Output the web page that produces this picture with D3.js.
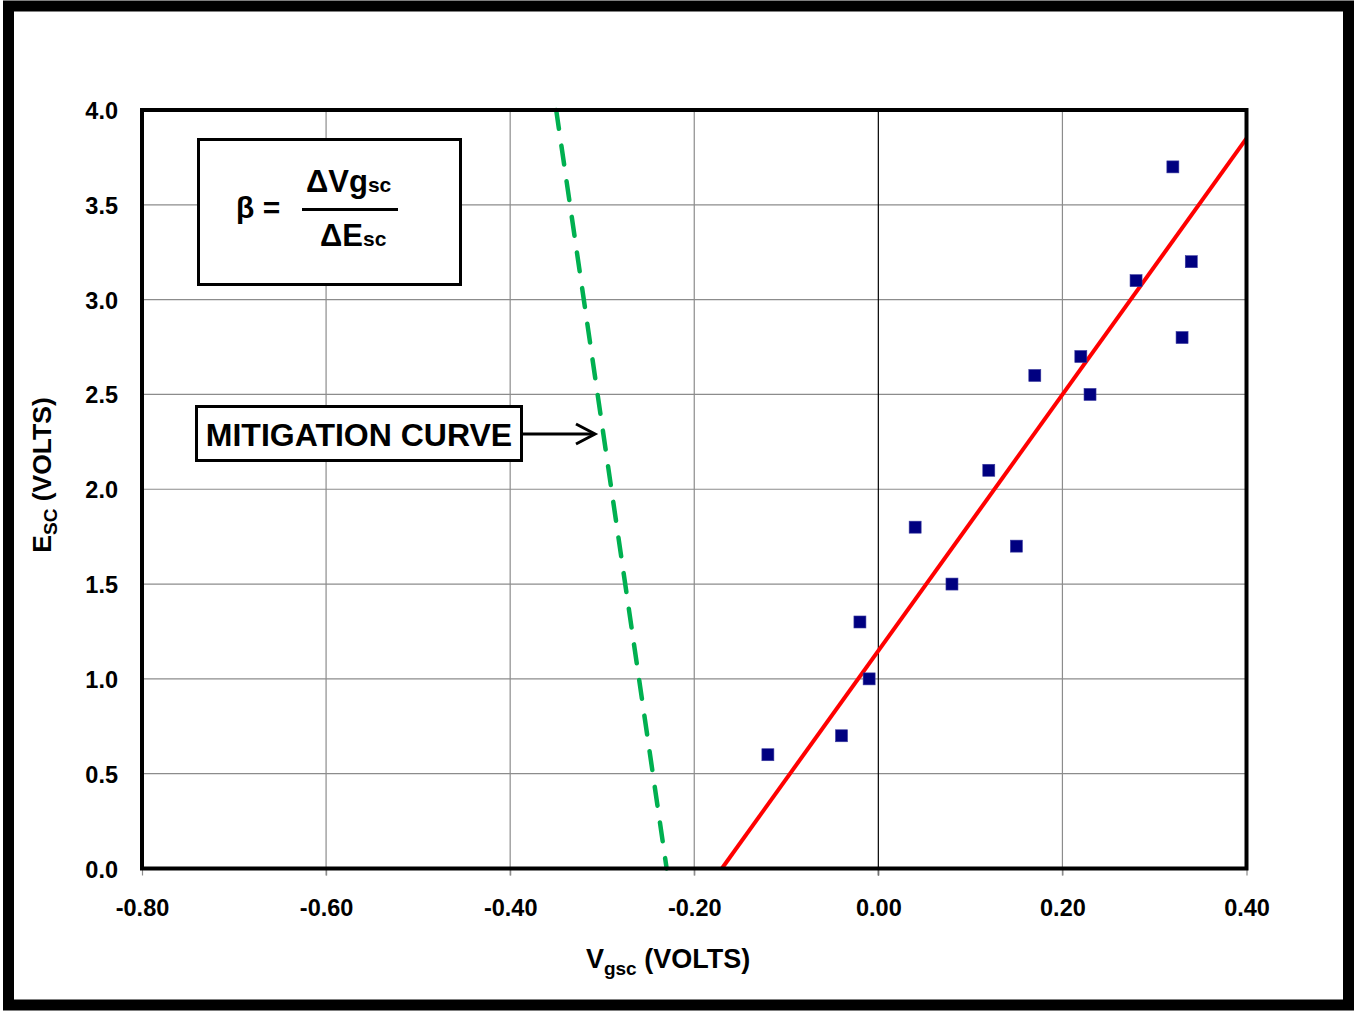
<!DOCTYPE html>
<html><head><meta charset="utf-8">
<script src="https://cdn.jsdelivr.net/npm/d3@7/dist/d3.min.js"></script>
<style>body{margin:0;background:#fff}svg{display:block;font-family:"Liberation Sans",Arial,sans-serif;font-weight:bold}</style>
</head><body>
<script>
// Data
const pointsX = [-0.12, -0.04, -0.02, -0.01, 0.04, 0.08, 0.12, 0.15, 0.17, 0.22, 0.23, 0.28, 0.32, 0.33, 0.34];
const pointsY = [0.6, 0.7, 1.3, 1.0, 1.8, 1.5, 2.1, 1.7, 2.6, 2.7, 2.5, 3.1, 3.7, 2.8, 3.2];
const fitX = [-0.17, 0.40];
const fitY = [0.0, 3.85];
const mitigationX = [-0.35, -0.23];
const mitigationY = [4.0, 0.0];
const xTicks = [-0.8, -0.6, -0.4, -0.2, 0.0, 0.2, 0.4];
const yTicks = [0, 0.5, 1.0, 1.5, 2.0, 2.5, 3.0, 3.5, 4.0];

const W = 1356, H = 1015;
const svg = d3.select("body").append("svg").attr("width", W).attr("height", H);

// outer frame
svg.append("rect").attr("x", 8.5).attr("y", 6).attr("width", 1340).attr("height", 999)
  .attr("fill", "#fff").attr("stroke", "#000").attr("stroke-width", 11);

const L = 142, R = 1246.5, T = 110, B = 868.5;
const x = d3.scaleLinear().domain([-0.8, 0.4]).range([L, R]);
const y = d3.scaleLinear().domain([0, 4]).range([B, T]);

// gridlines
svg.append("g").selectAll("line").data(yTicks.filter(d => d > 0 && d < 4)).join("line")
  .attr("x1", L).attr("x2", R).attr("y1", d => y(d)).attr("y2", d => y(d))
  .attr("stroke", "#8c8c8c").attr("stroke-width", 1.2);
svg.append("g").selectAll("line").data(xTicks.filter(d => d > -0.8 && d < 0.4)).join("line")
  .attr("x1", d => x(d)).attr("x2", d => x(d)).attr("y1", T).attr("y2", B + 7)
  .attr("stroke", d => d === 0 ? "#000" : "#8c8c8c").attr("stroke-width", 1.2);

// axes (labels only)
const xAxis = d3.axisBottom(x).tickValues(xTicks).tickFormat(d3.format(".2f")).tickSize(7).tickPadding(24);
const gx = svg.append("g").attr("transform", `translate(0,${B})`).call(xAxis);
gx.select(".domain").remove();
gx.selectAll("line").attr("stroke", "#8c8c8c").attr("stroke-width", 1.2);
gx.selectAll("text").attr("font-size", 23.5).attr("font-weight", "bold").attr("fill", "#000")
  .attr("font-family", "Liberation Sans, Arial, sans-serif").text(d => d3.format(".2f")(d).replace("−", "-"));

const yAxis = d3.axisLeft(y).tickValues(yTicks).tickFormat(d3.format(".1f")).tickSize(0).tickPadding(24);
const gy = svg.append("g").attr("transform", `translate(${L},1)`).call(yAxis);
gy.select(".domain").remove();
gy.selectAll("text").attr("font-size", 23.5).attr("font-weight", "bold").attr("fill", "#000")
  .attr("font-family", "Liberation Sans, Arial, sans-serif");

// mitigation dashed line
const line = d3.line().x(d => x(d[0])).y(d => y(d[1]));
svg.append("path").datum(d3.zip(mitigationX, mitigationY)).attr("d", line)
  .attr("fill", "none").attr("stroke", "#00b050").attr("stroke-width", 4.5)
  .attr("stroke-dasharray", "19,17").attr("stroke-linecap", "round");

// fit line
svg.append("path").datum(d3.zip(fitX, fitY)).attr("d", line)
  .attr("fill", "none").attr("stroke", "#ff0000").attr("stroke-width", 4);

// points
svg.append("g").selectAll("rect").data(d3.zip(pointsX, pointsY)).join("rect")
  .attr("x", d => x(d[0]) - 6).attr("y", d => y(d[1]) - 6).attr("width", 12).attr("height", 12)
  .attr("fill", "#000080").attr("stroke", "#3a3aa0").attr("stroke-width", 0.6);

// plot frame
svg.append("rect").attr("x", L).attr("y", T).attr("width", R - L).attr("height", B - T)
  .attr("fill", "none").attr("stroke", "#000").attr("stroke-width", 4);

// axis titles
const xt = svg.append("text").attr("x", 668).attr("y", 968).attr("text-anchor", "middle").attr("font-size", 27);
xt.append("tspan").text("V");
xt.append("tspan").attr("font-size", 19).attr("dy", 7).text("gsc");
xt.append("tspan").attr("dy", -7).text(" (VOLTS)");

const yt = svg.append("text").attr("transform", "translate(51,475) rotate(-90)").attr("text-anchor", "middle").attr("font-size", 26.5);
yt.append("tspan").text("E");
yt.append("tspan").attr("font-size", 19).attr("dy", 6).text("SC");
yt.append("tspan").attr("dy", -6).text(" (VOLTS)");

// beta box
svg.append("rect").attr("x", 198.5).attr("y", 139.5).attr("width", 262).attr("height", 145)
  .attr("fill", "#fff").attr("stroke", "#000").attr("stroke-width", 3);
svg.append("text").attr("x", 236).attr("y", 218).attr("font-size", 30).text("β =");
const num = svg.append("text").attr("x", 306).attr("y", 192).attr("font-size", 31);
num.append("tspan").text("ΔVg");
num.append("tspan").attr("font-size", 21).text("sc");
svg.append("line").attr("x1", 302).attr("x2", 398).attr("y1", 209.5).attr("y2", 209.5)
  .attr("stroke", "#000").attr("stroke-width", 3);
const den = svg.append("text").attr("x", 320).attr("y", 246).attr("font-size", 31);
den.append("tspan").text("ΔE");
den.append("tspan").attr("font-size", 21).text("sc");

// mitigation label
svg.append("rect").attr("x", 196.5).attr("y", 406.5).attr("width", 325).attr("height", 54)
  .attr("fill", "#fff").attr("stroke", "#000").attr("stroke-width", 3);
svg.append("text").attr("x", 359).attr("y", 446).attr("text-anchor", "middle").attr("font-size", 32).text("MITIGATION CURVE");
svg.append("line").attr("x1", 522).attr("x2", 594).attr("y1", 434).attr("y2", 434)
  .attr("stroke", "#000").attr("stroke-width", 3);
svg.append("path").attr("d", "M576,424 L595,434 L576,444").attr("fill", "none")
  .attr("stroke", "#000").attr("stroke-width", 3);
</script>
</body></html>
